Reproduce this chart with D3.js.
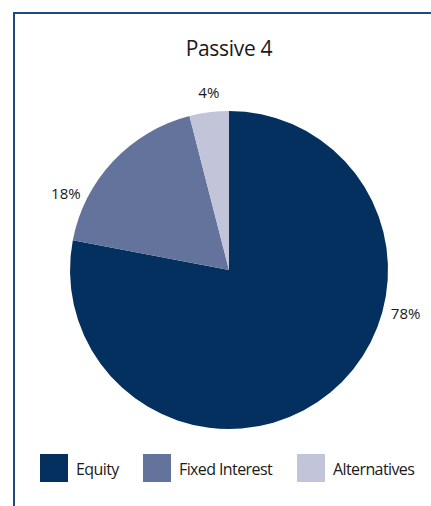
<!DOCTYPE html>
<html>
<head>
<meta charset="utf-8">
<script src="https://cdn.jsdelivr.net/npm/d3@7"></script>
<style>
  html, body { margin: 0; padding: 0; background: #fff; }
  svg { display: block; }
  text { font-family: "Open Sans", "Noto Sans", sans-serif; fill: #1a1a1a; }
</style>
</head>
<body>
<svg id="chart" width="431" height="506"></svg>
<script>
// Asset allocation for the "Passive 4" portfolio
const title = "Passive 4";
const categories = ["Equity", "Fixed Interest", "Alternatives"];
const shares = [78, 18, 4];
const labelTexts = ["78%", "18%", "4%"];

// Layout and styling
const colors = ["#03305f", "#63739c", "#c2c5da"];
const labelAngles = [104, -65, -6.5]; // degrees clockwise from 12 o'clock
const labelRadius = [182, 180, 178];
const width = 431, height = 506;
const cx = 229, cy = 270, radius = 159;

const svg = d3.select("#chart");

// frame (top and left edges visible)
svg.append("path")
  .attr("d", "M14,507 L14,13 L432,13")
  .attr("fill", "none")
  .attr("stroke", "#1d4a80")
  .attr("stroke-width", 2);

svg.append("text")
  .attr("x", cx)
  .attr("y", 56)
  .attr("text-anchor", "middle")
  .attr("font-size", 21)
  .attr("letter-spacing", -0.3)
  .text(title);

const data = categories.map((c, i) => ({ category: c, value: shares[i], label: labelTexts[i], i }));

const pie = d3.pie().sort(null).value(d => d.value).startAngle(0).endAngle(2 * Math.PI);
const arc = d3.arc().innerRadius(0).outerRadius(radius);

const g = svg.append("g").attr("transform", `translate(${cx},${cy})`);
g.selectAll("path.slice")
  .data(pie(data))
  .join("path")
  .attr("class", "slice")
  .attr("d", arc)
  .attr("fill", d => colors[d.data.i]);

// percentage labels
g.selectAll("text.pct")
  .data(data)
  .join("text")
  .attr("class", "pct")
  .attr("x", d => labelRadius[d.i] * Math.sin(labelAngles[d.i] * Math.PI / 180))
  .attr("y", d => -labelRadius[d.i] * Math.cos(labelAngles[d.i] * Math.PI / 180))
  .attr("dy", "0.35em")
  .attr("text-anchor", "middle")
  .attr("font-size", 15)
  .text(d => d.label);

// legend
const legendX = [40, 143, 297];
const legend = svg.append("g");
const items = legend.selectAll("g")
  .data(data)
  .join("g")
  .attr("transform", d => `translate(${legendX[d.i]},454)`);
items.append("rect")
  .attr("width", 28)
  .attr("height", 28)
  .attr("fill", d => colors[d.i]);
items.append("text")
  .attr("x", 36)
  .attr("y", 21)
  .attr("font-size", 16)
  .attr("letter-spacing", -0.6)
  .text(d => d.category);
</script>
</body>
</html>
